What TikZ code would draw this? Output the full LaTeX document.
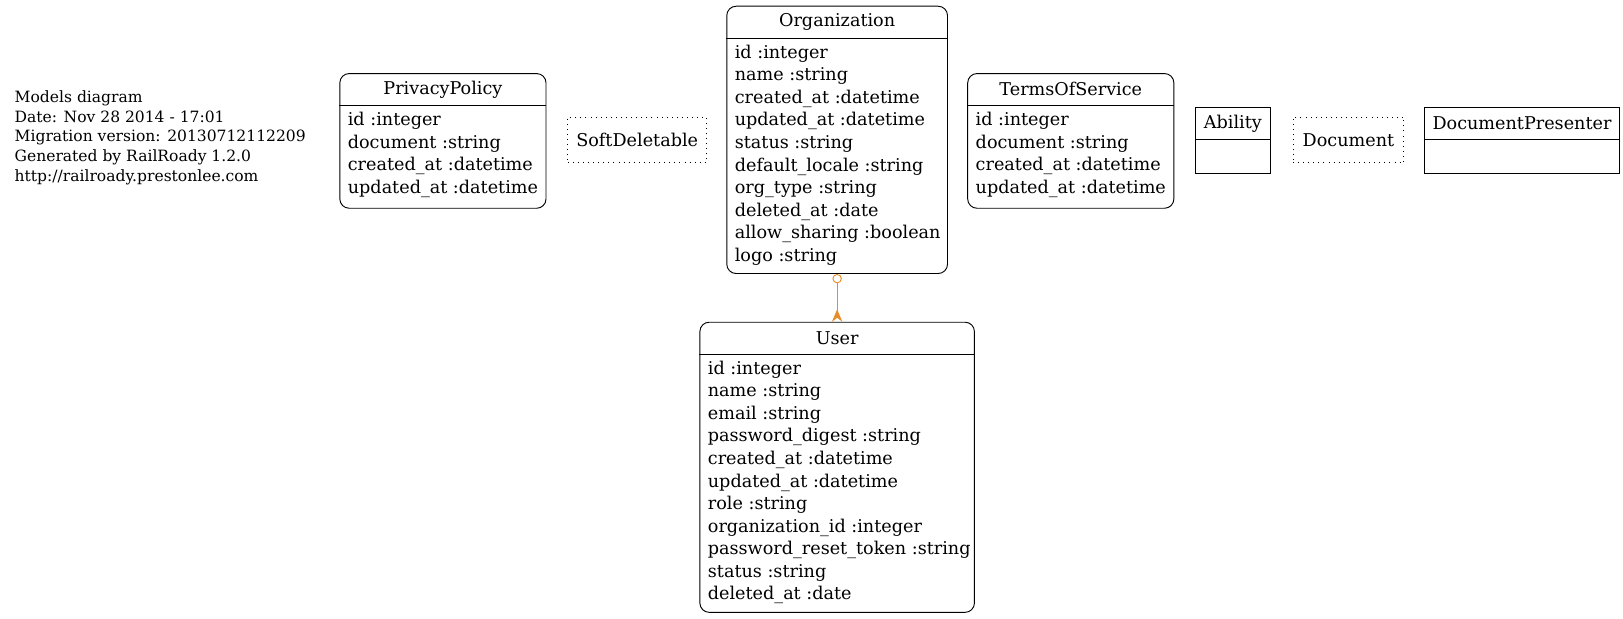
\documentclass[tikz,border=0pt]{standalone}
\usepackage{fontspec}
\setmainfont{DejaVu Serif}
\usetikzlibrary{positioning,arrows.meta}
\definecolor{relorange}{RGB}{232,140,40}

\begin{document}
\begin{tikzpicture}[x=1pt,y=-1pt,
model/.style={rectangle,draw,rounded corners=9pt,line width=0.9pt,inner sep=0pt},
plainmodel/.style={rectangle,draw,line width=0.9pt,inner sep=0pt},
module/.style={rectangle,draw,line width=0.9pt,dash pattern=on 0.9pt off 4pt,
  minimum height=44pt,inner sep=0pt,font=\fontsize{17}{21.8}\selectfont},
title/.style={inner sep=0pt,minimum height=31pt,anchor=north,font=\fontsize{17}{21.8}\selectfont},
fields/.style={inner sep=0pt,anchor=north west,align=left,font=\fontsize{17}{21.8}\selectfont},
rel/.style={draw=relorange,line width=0.9pt,
  {Circle[open,length=9pt,width=9pt]}-{Stealth[reversed,length=12pt,width=10pt]}}
]
\useasboundingbox (0,0) rectangle (1566.5,596.5);

% legend
\node[align=left,anchor=west,inner sep=0pt,font=\fontsize{15}{19}\selectfont] (legend) at (14,133)
  {Models diagram\\Date: Nov 28 2014 - 17:01\\Migration version: 20130712112209\\Generated by RailRoady 1.2.0\\http://railroady.prestonlee.com};

% PrivacyPolicy
\node[model,minimum width=199pt,minimum height=130pt] (pp) at (427.5,136) {};
\node[title] (ppt) at (pp.north) {PrivacyPolicy};
\coordinate (ppd) at (pp.west |- ppt.south);
\draw[line width=0.9pt] (ppd) -- (pp.east |- ppt.south);
\node[fields] (ppf) at ([xshift=8pt,yshift=-6pt]ppd)
  {id :integer\\document :string\\created\_at :datetime\\updated\_at :datetime};

% SoftDeletable
\node[module,minimum width=134pt] (soft) at (615,135) {SoftDeletable};

% Organization
\node[model,minimum width=213pt,minimum height=258pt] (org) at (808,135) {};
\node[title] (orgt) at (org.north) {Organization};
\coordinate (orgd) at (org.west |- orgt.south);
\draw[line width=0.9pt] (orgd) -- (org.east |- orgt.south);
\node[fields] (orgf) at ([xshift=8pt,yshift=-6pt]orgd)
  {id :integer\\name :string\\created\_at :datetime\\updated\_at :datetime\\status :string\\default\_locale :string\\org\_type :string\\deleted\_at :date\\allow\_sharing :boolean\\logo :string};

% TermsOfService
\node[model,minimum width=199pt,minimum height=130pt] (tos) at (1033.5,136) {};
\node[title] (tost) at (tos.north) {TermsOfService};
\coordinate (tosd) at (tos.west |- tost.south);
\draw[line width=0.9pt] (tosd) -- (tos.east |- tost.south);
\node[fields] (tosf) at ([xshift=8pt,yshift=-6pt]tosd)
  {id :integer\\document :string\\created\_at :datetime\\updated\_at :datetime};

% Ability
\node[plainmodel,minimum width=72pt,minimum height=63pt] (ab) at (1190,135.5) {};
\node[title] (abt) at (ab.north) {Ability};
\draw[line width=0.9pt] (ab.west |- abt.south) -- (ab.east |- abt.south);

% Document
\node[module,minimum width=107pt] (doc) at (1301.5,135) {Document};

% DocumentPresenter
\node[plainmodel,minimum width=189pt,minimum height=63pt] (dp) at (1469,135.5) {};
\node[title] (dpt) at (dp.north) {DocumentPresenter};
\draw[line width=0.9pt] (dp.west |- dpt.south) -- (dp.east |- dpt.south);

% User
\node[model,minimum width=265pt,minimum height=280pt] (user) at (808,451) {};
\node[title] (usert) at (user.north) {User};
\coordinate (userd) at (user.west |- usert.south);
\draw[line width=0.9pt] (userd) -- (user.east |- usert.south);
\node[fields] (userf) at ([xshift=8pt,yshift=-6pt]userd)
  {id :integer\\name :string\\email :string\\password\_digest :string\\created\_at :datetime\\updated\_at :datetime\\role :string\\organization\_id :integer\\password\_reset\_token :string\\status :string\\deleted\_at :date};

\draw[rel] (org) -- (user);
\end{tikzpicture}
\end{document}
